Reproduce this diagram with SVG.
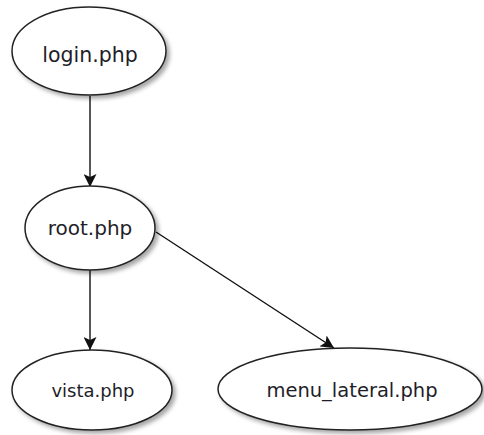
<svg xmlns="http://www.w3.org/2000/svg" width="484" height="435" viewBox="0 0 484 435">
  <style>
    .node ellipse { fill: #ffffff; stroke: #222222; stroke-width: 1.5; filter: url(#shadow); }
    .node text { font-family: "DejaVu Sans", Verdana, sans-serif; fill: #1e1e28; text-anchor: middle; }
    .edge { stroke: #111111; stroke-width: 1.4; fill: none; marker-end: url(#arrow); }
  </style>
  <defs>
    <filter id="shadow" x="-20%" y="-20%" width="150%" height="150%">
      <feDropShadow dx="3" dy="3" stdDeviation="2" flood-color="#000000" flood-opacity="0.35"/>
    </filter>
    <marker id="arrow" viewBox="0 0 13 13" refX="13" refY="6.5" markerWidth="13" markerHeight="13" markerUnits="userSpaceOnUse" orient="auto">
      <path d="M0,0 L13,6.5 L0,13 L3,6.5 Z" fill="#111111"/>
    </marker>
  </defs>

  <rect width="484" height="435" fill="#ffffff"/>

  <g id="connectors">
    <line class="edge" x1="90" y1="96" x2="90" y2="187"/>
    <line class="edge" x1="90" y1="270" x2="90" y2="350"/>
    <line class="edge" x1="156" y1="232" x2="334" y2="348"/>
  </g>

  <g id="login" class="node">
    <ellipse cx="89" cy="51" rx="77" ry="44"/>
    <text x="90" y="62" font-size="20.5">login.php</text>
  </g>

  <g id="root" class="node">
    <ellipse cx="90" cy="228" rx="65" ry="42"/>
    <text x="90" y="235" font-size="20">root.php</text>
  </g>

  <g id="vista" class="node">
    <ellipse cx="92" cy="390" rx="80" ry="40"/>
    <text x="93" y="397" font-size="18">vista.php</text>
  </g>

  <g id="menu_lateral" class="node">
    <ellipse cx="350" cy="389" rx="132" ry="41"/>
    <text x="352" y="397" font-size="19.5">menu_lateral.php</text>
  </g>
</svg>
